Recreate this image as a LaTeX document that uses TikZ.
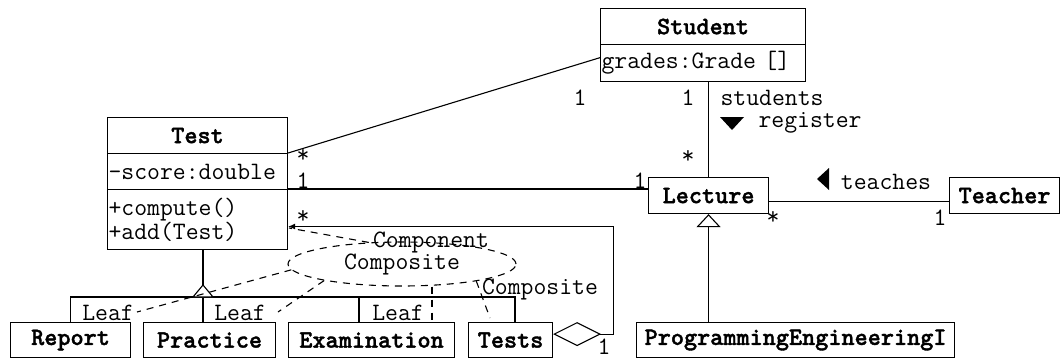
\documentclass[tikz,border=0pt]{standalone}
\usepackage{fontspec}
\newfontfamily\clsfont{lmmonolt10-bold.otf}[FakeBold=1.5]
\usepackage{tikz}
\usetikzlibrary{shapes.geometric,arrows.meta}
\newcommand{\umlfont}{\ttfamily\fontsize{25}{24}\selectfont}
\newcommand{\umlbold}{\clsfont\fontsize{25}{24}\selectfont}

\begin{document}
\begin{tikzpicture}[x=1pt,y=-1pt,line width=1.1pt]
\tikzstyle{cls} = [rectangle, draw, anchor=north west, inner sep=0pt, minimum height=36pt, font=\umlbold]
\tikzstyle{compart} = [rectangle, draw, anchor=north west, inner xsep=1pt, inner ysep=0pt, align=left, font=\umlfont]
\tikzstyle{lbl} = [anchor=base, inner sep=0pt, font=\umlfont]
\tikzstyle{role} = [dash pattern=on 7pt off 6pt]
\tikzstyle{collab} = [ellipse, draw, role, inner sep=0pt, minimum width=228pt, minimum height=44pt, font=\umlfont]
\useasboundingbox (0,0) rectangle (1061,359);

\node[cls, minimum width=205pt] (student) at (600,8) {Student};
\node[compart, minimum height=37pt, text width=203pt] (studentattr) at (600,44) {grades:Grade []};
\node[cls, minimum width=180pt] (test) at (107,117) {Test};
\node[compart, minimum height=36pt, text width=178pt] (testattr) at (107,153) {-score:double};
\node[compart, minimum height=60pt, text width=178pt] (testops) at (107,189) {+compute()\\+add(Test)};
\node[cls, minimum width=120pt] (lecture) at (648,177) {Lecture};
\node[cls, minimum width=110pt] (teacher) at (949,177) {Teacher};
\node[cls, minimum width=120pt, minimum height=35pt] (report) at (10,322) {Report};
\node[cls, minimum width=132pt, minimum height=35pt] (practice) at (143,322) {Practice};
\node[cls, minimum width=166pt, minimum height=35pt] (exam) at (288,322) {Examination};
\node[cls, minimum width=84pt, minimum height=35pt] (tests) at (468,322) {Tests};
\node[cls, minimum width=318pt, minimum height=35pt] (progeng) at (636,322) {ProgrammingEngineeringI};

\draw (testattr.north east) -- (studentattr.177);
\draw (testops.north east) -- (testops.north east -| lecture.west);
\draw (lecture.north |- studentattr.south) -- (lecture.north);
\draw (lecture.354) -- (lecture.354 -| teacher.west);

\coordinate (gen) at (203,297);
\draw (report.north) |- (gen);
\draw ([xshift=47pt]tests.north west) |- (gen);
\draw ([xshift=71pt]exam.north west) |- (gen);
\draw (gen) -- (gen |- practice.north);
\draw (gen |- testops.south) -- ([yshift=12pt]gen);
\draw[fill=white] ([xshift=-10pt]gen) -- ([yshift=12pt]gen) -- ([xshift=10pt]gen) -- cycle;
\draw[-{Triangle[open,length=13pt,width=24pt]}] (progeng.north -| lecture.south) -- (lecture.south);
\draw[{Diamond[open,length=48pt,width=24pt]}-{Latex[length=7pt,width=6pt]}] (tests.8) -- ++(60,0) |- ([yshift=-7pt]testops.east);

\node[collab] (collab) at (402,264) {Composite};
\coordinate (comprole) at (289,228);
\coordinate (leafrolea) at (137,312);
\coordinate (leafroleb) at (278,312);
\coordinate (leafrolec) at (432,320);
\coordinate (comprolet) at (490,318);
\draw[role] (collab.147) -- (comprole);
\draw[role] (collab.183) -- (leafrolea);
\draw[role] (collab.192) -- (leafroleb);
\draw[role] (leafrolec |- collab.south) -- (leafrolec);
\draw[role] (collab.347) -- (comprolet);

\node[lbl] (compname) at (431,247) {Component};
\node[lbl] (leafa) at (108,320) {Leaf};
\node[lbl] (leafb) at (240,320) {Leaf};
\node[lbl] (leafc) at (398,320) {Leaf};
\node[lbl] (compnamet) at (540,294) {Composite};

\node[lbl] (m1) at (580,105) {1};
\node[lbl] (m2) at (303,162) {*};
\node[lbl] (m3) at (688,105) {1};
\node[lbl] (m4) at (688,163) {*};
\node[lbl] (m5) at (303,188) {1};
\node[lbl] (m6) at (640,188) {1};
\node[lbl] (m7) at (303,223) {*};
\node[lbl] (m8) at (604,354) {1};
\node[lbl] (m9) at (773,224) {*};
\node[lbl] (m10) at (940,225) {1};

\node[lbl] (students) at (772,105) {students};
\node[lbl] (register) at (810,127) {register};
\node[lbl] (teaches) at (886,189) {teaches};
\fill (720,117) -- (744,117) -- (732,130) -- cycle;
\fill (829,168) -- (829,190) -- (817,179) -- cycle;
\end{tikzpicture}
\end{document}
